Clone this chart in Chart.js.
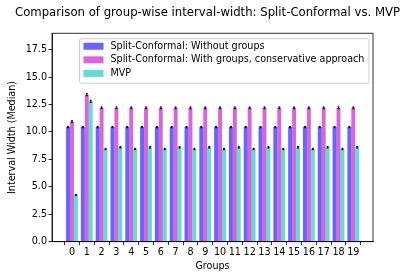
<!DOCTYPE html>
<html lang="en">
<head>
    <meta charset="UTF-8">
    <title>Group-wise interval width</title>
    <script src="https://cdn.jsdelivr.net/npm/chart.js"></script>
    <style>
        body { margin: 0; background: white; }
        canvas { display: block; }
    </style>
</head>
<body>
    <canvas id="chart" width="415" height="277"></canvas>
    <script>
        // data
        const groups = ['0','1','2','3','4','5','6','7','8','9','10','11','12','13','14','15','16','17','18','19'];
        const withoutGroups = [10.45, 10.45, 10.45, 10.45, 10.45, 10.45, 10.45, 10.45, 10.45, 10.45,
                               10.45, 10.45, 10.45, 10.45, 10.45, 10.45, 10.45, 10.45, 10.45, 10.45];
        const withGroups = [10.95, 13.4, 12.2, 12.2, 12.2, 12.2, 12.2, 12.2, 12.2, 12.2,
                            12.2, 12.2, 12.2, 12.2, 12.2, 12.2, 12.2, 12.2, 12.2, 12.2];
        const mvp = [4.25, 12.8, 8.45, 8.6, 8.45, 8.6, 8.45, 8.6, 8.45, 8.6,
                     8.45, 8.6, 8.45, 8.6, 8.45, 8.6, 8.45, 8.6, 8.45, 8.6];
        const errWithout = [0.06, 0.06, 0.06, 0.06, 0.06, 0.06, 0.06, 0.06, 0.06, 0.06,
                            0.06, 0.06, 0.06, 0.06, 0.06, 0.06, 0.06, 0.06, 0.06, 0.06];
        const errWith = [0.08, 0.1, 0.08, 0.08, 0.08, 0.08, 0.08, 0.08, 0.08, 0.08,
                         0.08, 0.08, 0.08, 0.08, 0.08, 0.08, 0.08, 0.08, 0.08, 0.08];
        const errMvp = [0.05, 0.1, 0.06, 0.06, 0.06, 0.06, 0.06, 0.06, 0.06, 0.06,
                        0.06, 0.06, 0.06, 0.06, 0.06, 0.06, 0.06, 0.06, 0.06, 0.06];
        const yTicks = [0, 2.5, 5, 7.5, 10, 12.5, 15, 17.5];

        const toPoints = arr => arr.map((v, i) => ({ x: i, y: v }));

        Chart.defaults.font.family = 'DejaVu Sans';
        Chart.defaults.font.size = 9.6;
        Chart.defaults.color = '#000';

        // black error bars on top of each bar
        const errorBars = {
            id: 'errorBars',
            afterDatasetsDraw(chart) {
                const ctx = chart.ctx;
                const y = chart.scales.y;
                ctx.save();
                ctx.strokeStyle = '#000';
                ctx.lineWidth = 1;
                chart.data.datasets.forEach((ds, i) => {
                    chart.getDatasetMeta(i).data.forEach((bar, j) => {
                        const v = ds.data[j].y, e = ds.errors[j];
                        const y1 = y.getPixelForValue(v - e), y2 = y.getPixelForValue(v + e);
                        ctx.beginPath();
                        ctx.moveTo(bar.x, y1); ctx.lineTo(bar.x, y2);
                        ctx.moveTo(bar.x - 1, y1); ctx.lineTo(bar.x + 1, y1);
                        ctx.moveTo(bar.x - 1, y2); ctx.lineTo(bar.x + 1, y2);
                        ctx.stroke();
                    });
                });
                ctx.restore();
            }
        };

        // top / right spines and the legend box
        const frameLegend = {
            id: 'frameLegend',
            afterDraw(chart) {
                const ctx = chart.ctx;
                const a = chart.chartArea;
                ctx.save();
                ctx.strokeStyle = '#000';
                ctx.lineWidth = 0.8;
                ctx.strokeRect(a.left, a.top, a.right - a.left, a.bottom - a.top);

                const lx = a.left + 27.5, ly = a.top + 5.5, lw = 289.5, lh = 44.5;
                ctx.fillStyle = 'rgba(255,255,255,0.8)';
                ctx.strokeStyle = '#cccccc';
                ctx.lineWidth = 1;
                ctx.beginPath();
                ctx.roundRect(lx, ly, lw, lh, 2);
                ctx.fill();
                ctx.stroke();

                ctx.font = '9.6px "DejaVu Sans"';
                ctx.textBaseline = 'middle';
                chart.data.datasets.forEach((ds, i) => {
                    const cy = ly + 7.5 + i * 13.6;
                    ctx.fillStyle = ds.backgroundColor;
                    ctx.fillRect(lx + 4, cy - 3.5, 20, 7);
                    ctx.fillStyle = '#000';
                    ctx.fillText(ds.label, lx + 31, cy);
                });
                ctx.restore();
            }
        };

        new Chart(document.getElementById('chart'), {
            type: 'bar',
            data: {
                datasets: [
                    {
                        label: 'Split-Conformal: Without groups',
                        data: toPoints(withoutGroups),
                        errors: errWithout,
                        backgroundColor: 'rgba(0,0,255,0.6)'
                    },
                    {
                        label: 'Split-Conformal: With groups, conservative approach',
                        data: toPoints(withGroups),
                        errors: errWith,
                        backgroundColor: 'rgba(191,0,191,0.6)'
                    },
                    {
                        label: 'MVP',
                        data: toPoints(mvp),
                        errors: errMvp,
                        backgroundColor: 'rgba(0,191,191,0.6)'
                    }
                ]
            },
            options: {
                responsive: false,
                animation: false,
                categoryPercentage: 0.8,
                barPercentage: 1.0,
                layout: { padding: 0 },
                plugins: {
                    legend: { display: false },
                    tooltip: { enabled: false },
                    title: {
                        display: true,
                        text: 'Comparison of group-wise interval-width: Split-Conformal vs. MVP',
                        font: { size: 11.7, weight: 'normal' },
                        color: '#000',
                        padding: { top: 6, bottom: 13.2 }
                    }
                },
                scales: {
                    x: {
                        type: 'linear',
                        offset: false,
                        min: -1.35,
                        max: 20.33,
                        afterBuildTicks(s) { s.ticks = groups.map((g, i) => ({ value: i })); },
                        afterFit(s) { s.height = 35.3; },
                        ticks: {
                            callback: v => groups[v],
                            padding: 2,
                            maxRotation: 0,
                            autoSkip: false
                        },
                        grid: { drawOnChartArea: false, drawTicks: true, tickLength: 3.5, color: '#000', lineWidth: 0.8 },
                        border: { display: true, color: '#000', width: 0.8 },
                        title: { display: true, text: 'Groups', padding: { top: 0, bottom: 5 } }
                    },
                    y: {
                        min: 0,
                        max: 19,
                        afterBuildTicks(s) { s.ticks = yTicks.map(v => ({ value: v })); },
                        afterFit(s) { s.width = 52; },
                        ticks: {
                            callback: v => v.toFixed(1),
                            padding: 1.5
                        },
                        grid: { drawOnChartArea: false, drawTicks: true, tickLength: 3.5, color: '#000', lineWidth: 0.8 },
                        border: { display: true, color: '#000', width: 0.8 },
                        title: { display: true, text: 'Interval Width (Median)', padding: { top: 7, bottom: 0 } }
                    },
                    // empty right-hand margin so the title stays centred on the figure
                    yRight: {
                        position: 'right',
                        display: true,
                        afterFit(s) { s.width = 42; },
                        ticks: { display: false },
                        grid: { display: false },
                        border: { display: false }
                    }
                }
            },
            plugins: [errorBars, frameLegend]
        });
    </script>
</body>
</html>
